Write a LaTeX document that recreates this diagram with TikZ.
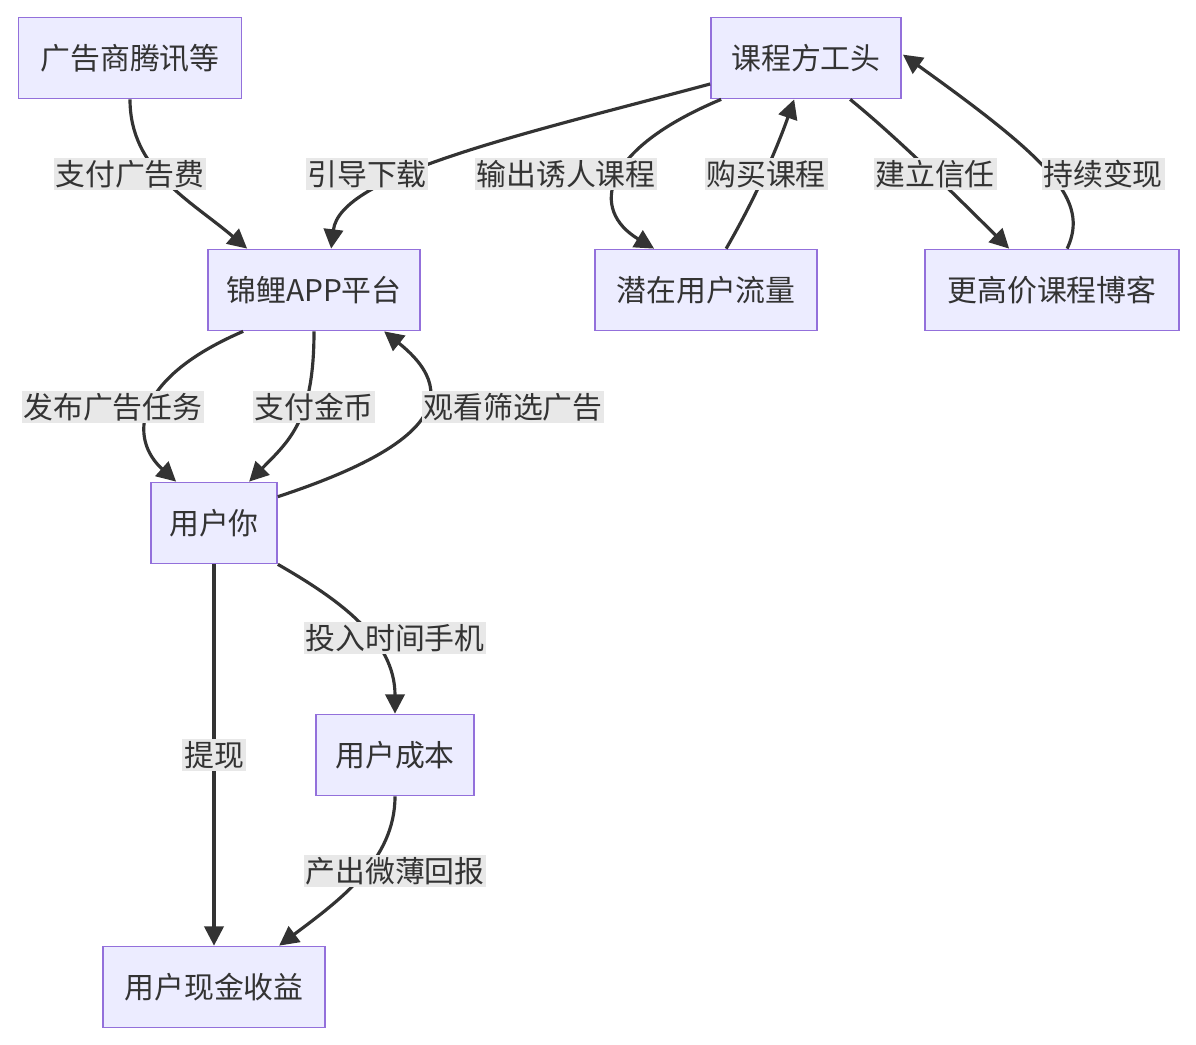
\documentclass[tikz,border=0pt]{standalone}
\usepackage{fontspec}
\setmainfont{Noto Sans CJK SC}
\usetikzlibrary{arrows.meta,calc}
\definecolor{boxfill}{HTML}{ECECFF}
\definecolor{boxline}{HTML}{9370DB}
\definecolor{edgecol}{HTML}{333333}
\definecolor{lblfill}{HTML}{E8E8E8}
\begin{document}
\begin{tikzpicture}[x=0.02cm,y=-0.02cm,
    box/.style={rectangle,draw=boxline,fill=boxfill,line width=1pt,minimum height=1.62cm,
      font=\fontsize{17}{20}\selectfont,text=edgecol},
    edge/.style={draw=edgecol,line width=1.8pt,-{Triangle[length=11pt,width=11pt]}},
    lbl/.style={fill=lblfill,inner sep=1pt,font=\fontsize{17}{20}\selectfont,text=edgecol}]
  \useasboundingbox (0,0) rectangle (1196,1044);

  % nodes
  \node[box,minimum width=4.46cm] (ad)     at (130,58)  {广告商腾讯等};
  \node[box,minimum width=4.24cm] (app)    at (314,290) {锦鲤APP平台};
  \node[box,minimum width=3.80cm] (course) at (806,58)  {课程方工头};
  \node[box,minimum width=4.44cm] (pot)    at (706,290) {潜在用户流量};
  \node[box,minimum width=5.08cm] (blog)   at (1052,290) {更高价课程博客};
  \node[box,minimum width=2.52cm] (you)    at (214,523) {用户你};
  \node[box,minimum width=3.16cm] (cost)   at (395,755) {用户成本};
  \node[box,minimum width=4.44cm] (cash)   at (214,987) {用户现金收益};

  % edges
  \draw[edge] (ad.south) .. controls (130,170) and (190,200) .. ($(app.north west)+(40,0)$);
  \draw[edge] ($(course.west)+(0,26)$) .. controls (520,135) and (340,175) .. ($(app.north west)+(124,0)$);
  \draw[edge] ($(course.south west)+(11,0)$) .. controls (600,150) and (590,210) .. ($(pot.north west)+(60,0)$);
  \draw[edge] ($(pot.north west)+(132,0)$) .. controls (760,190) and (780,140) .. ($(course.south west)+(84,0)$);
  \draw[edge] ($(course.south west)+(140,0)$) .. controls (900,140) and (960,200) .. ($(blog.north west)+(85,0)$);
  \draw[edge] ($(blog.north west)+(143,0)$) .. controls (1090,200) and (1050,160) .. ($(course.north east)+(1,38)$);
  \draw[edge] ($(app.south west)+(36,0)$) .. controls (130,380) and (130,440) .. ($(you.north west)+(26,0)$);
  \draw[edge] (app.south) .. controls (314,420) and (290,440) .. ($(you.north west)+(99,0)$);
  \draw[edge] ($(you.north east)+(0,15)$) .. controls (420,450) and (470,400) .. ($(app.south west)+(177,0)$);
  \draw[edge] (you.south east) .. controls (340,600) and (395,640) .. (cost.north);
  \draw[edge] (you.south) -- (cash.north);
  \draw[edge] (cost.south) .. controls (395,860) and (340,900) .. ($(cash.north west)+(177,0)$);

  % labels
  \node[lbl] (l1)  at (130,174) {支付广告费};
  \node[lbl] (l2)  at (367,174) {引导下载};
  \node[lbl] (l3)  at (566,174) {输出诱人课程};
  \node[lbl] (l4)  at (766,174) {购买课程};
  \node[lbl] (l5)  at (935,174) {建立信任};
  \node[lbl] (l6)  at (1103,174) {持续变现};
  \node[lbl] (l7)  at (113,407) {发布广告任务};
  \node[lbl] (l8)  at (314,407) {支付金币};
  \node[lbl] (l9)  at (513,407) {观看筛选广告};
  \node[lbl] (l10) at (395,638) {投入时间手机};
  \node[lbl] (l11) at (214,755) {提现};
  \node[lbl] (l12) at (395,871) {产出微薄回报};
\end{tikzpicture}
\end{document}
